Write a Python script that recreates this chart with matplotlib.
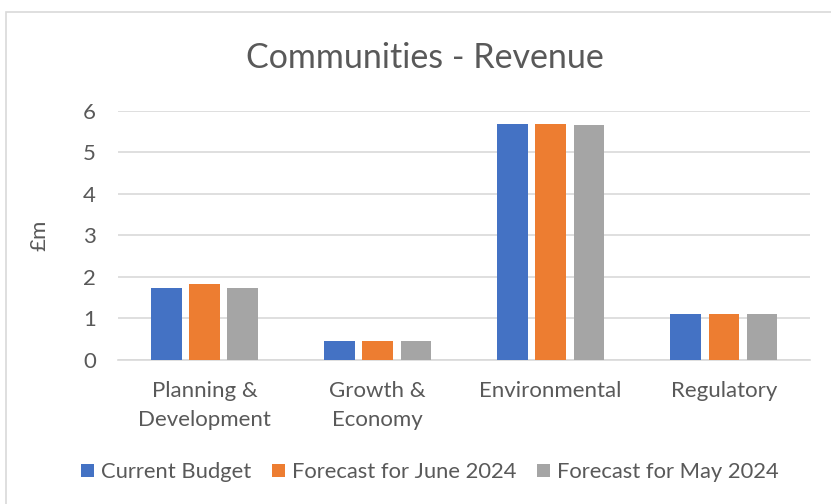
import numpy as np
import matplotlib.pyplot as plt
from matplotlib.patches import Rectangle

categories = ["Planning &\nDevelopment", "Growth &\nEconomy", "Environmental", "Regulatory"]
series_names = ["Current Budget", "Forecast for June 2024", "Forecast for May 2024"]
current_budget = [1.73, 0.46, 5.68, 1.10]
forecast_june = [1.83, 0.46, 5.68, 1.10]
forecast_may = [1.73, 0.46, 5.66, 1.10]
y_ticks = [0, 1, 2, 3, 4, 5, 6]

colors = ["#4472C4", "#ED7D31", "#A5A5A5"]
text_color = "#595959"
grid_color = "#D9D9D9"

plt.rcParams["font.family"] = ["Lato", "DejaVu Sans"]

fig = plt.figure(figsize=(8.31, 5.04), dpi=100)
fig.patches.append(Rectangle((6 / 831, -0.1), 1.0, 1 - 12 / 504 + 0.1,
                             transform=fig.transFigure, fill=False,
                             edgecolor=grid_color, linewidth=1.2))
ax = fig.add_axes([0.142, 0.286, 0.833, 0.494])

x = np.arange(len(categories))
width = 0.175
gap = 0.045
for i, (vals, name) in enumerate(zip([current_budget, forecast_june, forecast_may], series_names)):
    offset = (i - 1) * (width + gap)
    ax.bar(x + offset, vals, width, color=colors[i], label=name, zorder=3)

ax.set_xlim(-0.5, len(categories) - 0.5)
ax.set_ylim(0, 6)
ax.set_yticks(y_ticks)
ax.set_xticks(x)
ax.set_xticklabels(categories, fontsize=16, color=text_color, linespacing=1.6)
ax.tick_params(axis="y", labelsize=16, colors=text_color, length=0, pad=16)
ax.tick_params(axis="x", length=0, pad=15)
ax.grid(axis="y", color=grid_color, linewidth=1.2, zorder=0)
for s in ["left", "right", "top"]:
    ax.spines[s].set_visible(False)
ax.spines["bottom"].set_color(grid_color)
ax.spines["bottom"].set_linewidth(1.2)

ax.set_ylabel("£m", fontsize=16, color=text_color, labelpad=24)
fig.text(0.511, 0.885, "Communities - Revenue", ha="center", va="center",
         fontsize=24.5, color=text_color)

fig.legend(loc="center", bbox_to_anchor=(0.517, 0.063), ncol=3, frameon=False,
           fontsize=15.8, labelcolor=text_color, handlelength=0.6, handleheight=0.6,
           handletextpad=0.3, columnspacing=0.95)

fig.savefig("out.png", dpi=100)
